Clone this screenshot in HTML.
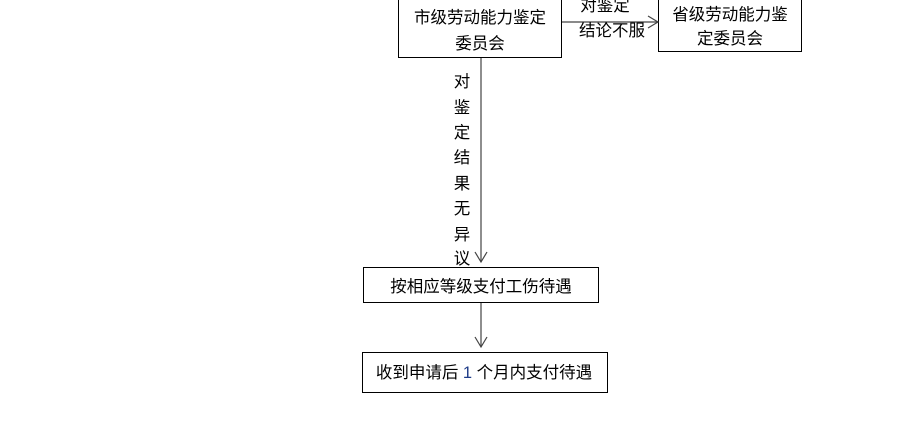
<!DOCTYPE html>
<html><head><meta charset="utf-8"><style>
html,body{margin:0;padding:0;background:#fff;}
svg text{font-family:"Liberation Sans","Noto Sans CJK SC",sans-serif;font-size:16.5px;fill:#000;}
</style></head><body>
<svg width="897" height="423" xmlns="http://www.w3.org/2000/svg">
<g fill="none" stroke="#000" stroke-width="1">
<rect x="398.5" y="-5.5" width="163" height="63"/>
<rect x="658.5" y="-5.5" width="143" height="57"/>
<rect x="363.5" y="267.5" width="235" height="35"/>
<rect x="362.5" y="352.5" width="245" height="40"/>
</g>
<g stroke="#444" stroke-width="1.2" fill="none">
<line x1="562" y1="22" x2="658" y2="22"/>
<polyline points="648,16 658,22 648,28"/>
<line x1="481" y1="58" x2="481" y2="262"/>
<polyline points="475,252 481,262 487,252"/>
<line x1="481" y1="303" x2="481" y2="347"/>
<polyline points="475,337 481,347 487,337"/>
</g>
<text x="480" y="23" text-anchor="middle">市级劳动能力鉴定</text>
<text x="480" y="49" text-anchor="middle">委员会</text>
<text x="730" y="20" text-anchor="middle">省级劳动能力鉴</text>
<text x="730" y="44" text-anchor="middle">定委员会</text>
<text x="605" y="11" text-anchor="middle">对鉴定</text>
<text x="612" y="36" text-anchor="middle">结论不服</text>
<g text-anchor="middle">
<text x="462" y="87">对</text>
<text x="462" y="113">鉴</text>
<text x="462" y="138">定</text>
<text x="462" y="163">结</text>
<text x="462" y="189">果</text>
<text x="462" y="214">无</text>
<text x="462" y="240">异</text>
<text x="462" y="264">议</text>
</g>
<text x="481" y="292" text-anchor="middle">按相应等级支付工伤待遇</text>
<text x="484" y="378" text-anchor="middle">收到申请后 <tspan fill="#1f3c88">1</tspan> 个月内支付待遇</text>
</svg>
</body></html>
